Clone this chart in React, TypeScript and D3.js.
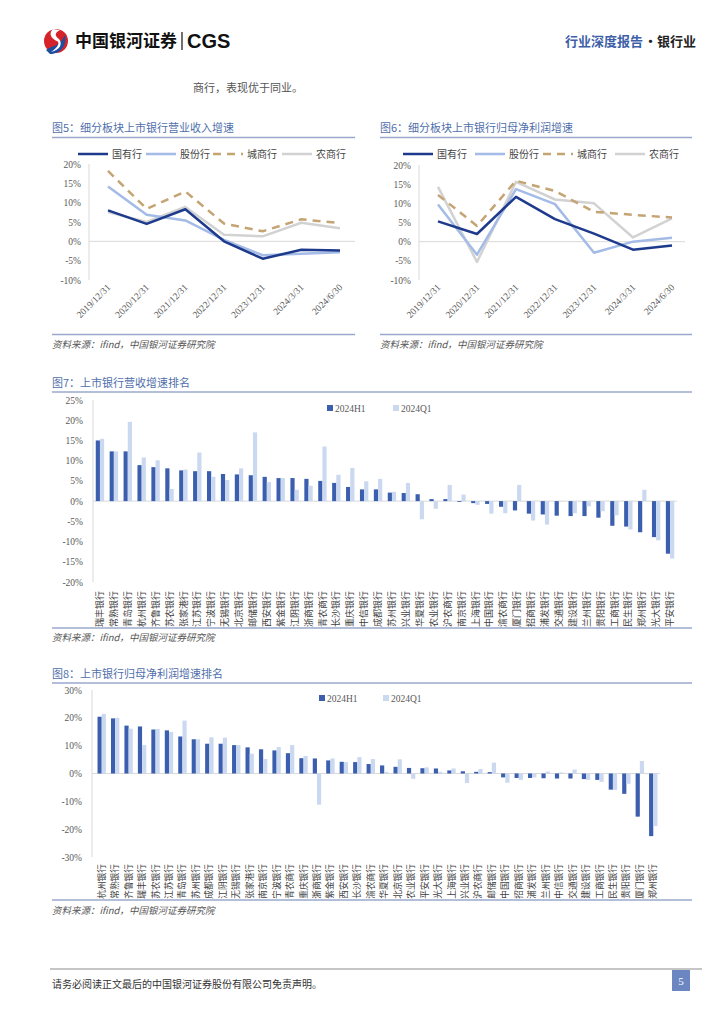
import React from 'react';
import * as d3 from 'd3';

// ---------- data ----------
const lineCats = ['2019/12/31', '2020/12/31', '2021/12/31', '2022/12/31', '2023/12/31', '2024/3/31', '2024/6/30'];
const seriesNames = ['国有行', '股份行', '城商行', '农商行'];

// 图5 营业收入增速 (%)
const revState = [8.0, 4.5, 8.3, 0.0, -4.5, -2.2, -2.4];
const revJoint = [14.2, 6.9, 5.4, 0.4, -3.6, -3.2, -2.8];
const revCity = [18.2, 8.4, 12.9, 4.6, 2.6, 5.7, 4.7];
const revRural = [7.6, 5.0, 8.9, 1.7, 1.3, 4.8, 3.4];

// 图6 归母净利润增速 (%)
const profState = [5.3, 2.0, 11.7, 5.9, 2.1, -2.1, -1.0];
const profJoint = [9.7, -3.4, 13.7, 9.8, -2.9, 0.0, 1.0];
const profCity = [12.2, 4.1, 15.9, 13.2, 7.8, 7.0, 6.3];
const profRural = [14.3, -5.3, 15.6, 11.0, 10.0, 1.1, 6.1];

const lineTicks = [-10, -5, 0, 5, 10, 15, 20];

// 图7 营收增速排名
const revBanks = ['瑞丰银行', '常熟银行', '青岛银行', '杭州银行', '齐鲁银行', '苏农银行', '张家港行', '江苏银行', '宁波银行', '无锡银行', '北京银行', '邮储银行', '西安银行', '紫金银行', '江阴银行', '浙商银行', '青农商行', '长沙银行', '重庆银行', '中信银行', '成都银行', '苏州银行', '兴业银行', '华夏银行', '农业银行', '沪农商行', '南京银行', '上海银行', '中国银行', '渝农商行', '厦门银行', '招商银行', '浦发银行', '交通银行', '建设银行', '兰州银行', '贵阳银行', '工商银行', '民生银行', '郑州银行', '光大银行', '平安银行'];
const revH1 = [15.0, 12.3, 12.3, 8.9, 8.4, 8.1, 7.6, 7.4, 7.4, 6.7, 6.6, 6.4, 6.0, 5.7, 5.7, 5.5, 5.0, 4.5, 3.5, 2.9, 2.9, 2.1, 2.0, 1.7, 0.5, 0.5, -0.2, -0.5, -0.7, -1.4, -2.3, -3.1, -3.3, -3.6, -3.7, -3.7, -4.1, -6.1, -6.3, -7.7, -8.9, -13.0];
const revQ1 = [15.4, 12.3, 19.6, 10.8, 10.1, 3.0, 7.8, 12.0, 6.0, 5.2, 8.1, 17.0, 4.7, 5.7, 2.8, 3.8, 13.5, 6.5, 8.2, 4.9, 5.5, 2.3, 4.5, -4.5, -1.9, 4.0, 1.6, -0.9, -3.1, -3.0, 4.0, -4.8, -5.8, -0.1, -3.0, -1.3, -2.5, -3.5, -7.0, 2.8, -9.7, -14.2];
const revTicks = [-20, -15, -10, -5, 0, 5, 10, 15, 20, 25];

// 图8 归母净利润增速排名
const profBanks = ['杭州银行', '常熟银行', '齐鲁银行', '瑞丰银行', '苏农银行', '江苏银行', '青岛银行', '苏州银行', '成都银行', '江阴银行', '无锡银行', '张家港行', '南京银行', '宁波银行', '青农商行', '重庆银行', '浙商银行', '紫金银行', '西安银行', '长沙银行', '渝农商行', '华夏银行', '北京银行', '农业银行', '平安银行', '光大银行', '上海银行', '兴业银行', '沪农商行', '邮储银行', '中国银行', '招商银行', '浦发银行', '兰州银行', '中信银行', '交通银行', '建设银行', '工商银行', '民生银行', '贵阳银行', '厦门银行', '郑州银行'];
const profH1 = [20.4, 19.8, 17.2, 16.9, 15.8, 15.5, 13.3, 12.3, 10.7, 10.7, 10.2, 9.4, 8.7, 8.3, 7.3, 5.5, 5.4, 4.7, 4.2, 4.1, 3.4, 2.9, 2.4, 2.0, 1.9, 1.8, 1.1, 0.8, 0.6, 0.5, -1.4, -1.6, -1.6, -1.7, -1.8, -1.8, -2.0, -2.3, -5.8, -7.3, -15.5, -22.5];
const profQ1 = [21.4, 20.0, 16.1, 10.2, 16.0, 14.9, 19.0, 12.3, 13.0, 12.9, 10.2, 7.1, 5.2, 9.5, 10.2, 6.3, -11.2, 5.4, 4.1, 5.9, 5.2, 0.6, 5.1, -1.9, 2.2, 0.6, 1.8, -3.4, 1.6, 3.9, -3.3, -2.3, -1.4, 0.7, 0.4, 1.4, -2.3, -3.0, -5.9, -3.7, 4.5, -18.9];
const profTicks = [-30, -20, -10, 0, 10, 20, 30];

// ---------- styles ----------
const CJK = '"Noto Sans CJK SC", "Noto Sans", sans-serif';
const SERIF = '"Liberation Serif", "DejaVu Serif", serif';
const TITLE_BLUE = '#4f6fab';
const RULE = '#9aa9cc';
const lineColors = ['#1d3a8c', '#a3bbe6', '#c5a474', '#d2d2d2'];
const DARK_BAR = '#3b5fae';
const LIGHT_BAR = '#cbd9f0';

type LineChartProps = {
  x0: number; x1: number; title: string;
  axisX: number; plotRight: number; top: number; bottom: number;
  firstX: number; lastX: number;
  series: number[][];
  legendX: number[];
};

function LineChart(p: LineChartProps) {
  const y = d3.scaleLinear().domain([-10, 20]).range([p.bottom, p.top]);
  const x = d3.scalePoint<string>().domain(lineCats).range([p.firstX, p.lastX]);
  const line = d3.line<number>().x((_, i) => x(lineCats[i]) as number).y((d) => y(d));
  const order = [3, 1, 2, 0];
  return (
    <g>
      <text x={p.x0} y={132} fontFamily={CJK} fontSize={11} fill={TITLE_BLUE}>{p.title}</text>
      <line x1={p.x0} x2={p.x1} y1={137.5} y2={137.5} stroke={RULE} strokeWidth={1.5} />
      {seriesNames.map((n, i) => (
        <g key={n}>
          <line x1={p.legendX[i]} x2={p.legendX[i] + 30} y1={154} y2={154} stroke={lineColors[i]} strokeWidth={2.5}
            strokeDasharray={i === 2 ? '8 6' : undefined} />
          <text x={p.legendX[i] + 34} y={157.5} fontFamily={CJK} fontSize={10} fill="#444">{n}</text>
        </g>
      ))}
      <line x1={p.axisX} x2={p.axisX} y1={p.top} y2={p.bottom} stroke="#d9d9d9" strokeWidth={1} />
      <line x1={p.axisX} x2={p.plotRight} y1={y(0)} y2={y(0)} stroke="#d9d9d9" strokeWidth={1} />
      {lineTicks.map((t) => (
        <text key={t} x={p.axisX - 8} y={y(t) + 3.5} textAnchor="end" fontFamily={SERIF} fontSize={9.5} fill="#595959">{t}%</text>
      ))}
      {order.map((i) => (
        <path key={i} d={line(p.series[i]) || ''} fill="none" stroke={lineColors[i]} strokeWidth={2.5}
          strokeDasharray={i === 2 ? '8 6' : undefined} strokeLinejoin="round" />
      ))}
      {lineCats.map((c) => (
        <text key={c} transform={`translate(${(x(c) as number) + 3},${p.bottom + 8}) rotate(-45)`} textAnchor="end"
          fontFamily={SERIF} fontSize={9.5} fill="#595959">{c}</text>
      ))}
      <line x1={p.x0} x2={p.x1} y1={334.5} y2={334.5} stroke={RULE} strokeWidth={1.5} />
      <text x={p.x0} y={348} fontFamily={CJK} fontSize={9.5} fill="#555" fontStyle="italic">资料来源：ifind，中国银河证券研究院</text>
    </g>
  );
}

type BarChartProps = {
  title: string; titleY: number; ruleY: number;
  names: string[]; h1: number[]; q1: number[]; ticks: number[];
  axisX: number; bandStart: number; bandEnd: number; zeroEnd: number;
  top: number; bottom: number;
  legendY: number; legendX1: number; legendX2: number;
  labelTop: number; sourceRuleY: number; sourceY: number; labelSize: number;
};

function BarChart(p: BarChartProps) {
  const y = d3.scaleLinear().domain([p.ticks[0], p.ticks[p.ticks.length - 1]]).range([p.bottom, p.top]);
  const x = d3.scaleBand<string>().domain(p.names).range([p.bandStart, p.bandEnd]).padding(0);
  const bw = 4.2;
  return (
    <g>
      <text x={52} y={p.titleY} fontFamily={CJK} fontSize={11} fill={TITLE_BLUE}>{p.title}</text>
      <line x1={52} x2={692} y1={p.ruleY} y2={p.ruleY} stroke={RULE} strokeWidth={1.5} />
      <line x1={p.axisX} x2={p.axisX} y1={p.top} y2={p.bottom} stroke="#d9d9d9" strokeWidth={1} />
      <line x1={p.axisX} x2={p.zeroEnd} y1={y(0)} y2={y(0)} stroke="#d9d9d9" strokeWidth={1} />
      {p.ticks.map((t) => (
        <text key={t} x={p.axisX - 10} y={y(t) + 3.5} textAnchor="end" fontFamily={SERIF} fontSize={9.5} fill="#595959">{t}%</text>
      ))}
      {p.names.map((n, i) => {
        const c = (x(n) as number) + x.bandwidth() / 2;
        const a = p.h1[i];
        const b = p.q1[i];
        return (
          <g key={n}>
            <rect x={c - bw} width={bw} y={Math.min(y(a), y(0))} height={Math.abs(y(a) - y(0))} fill={DARK_BAR} />
            <rect x={c} width={bw} y={Math.min(y(b), y(0))} height={Math.abs(y(b) - y(0))} fill={LIGHT_BAR} />
            <text transform={`translate(${c},${p.labelTop}) rotate(-90)`} textAnchor="end" dy="0.35em"
              fontFamily={CJK} fontSize={p.labelSize} fill="#404040">{n}</text>
          </g>
        );
      })}
      <rect x={p.legendX1} y={p.legendY - 3} width={6} height={6} fill={DARK_BAR} />
      <text x={p.legendX1 + 8} y={p.legendY + 3.5} fontFamily={SERIF} fontSize={9.5} fill="#595959">2024H1</text>
      <rect x={p.legendX2} y={p.legendY - 3} width={6} height={6} fill={LIGHT_BAR} />
      <text x={p.legendX2 + 8} y={p.legendY + 3.5} fontFamily={SERIF} fontSize={9.5} fill="#595959">2024Q1</text>
      <line x1={52} x2={692} y1={p.sourceRuleY} y2={p.sourceRuleY} stroke={RULE} strokeWidth={1.5} />
      <text x={52} y={p.sourceY} fontFamily={CJK} fontSize={9.5} fill="#555" fontStyle="italic">资料来源：ifind，中国银河证券研究院</text>
    </g>
  );
}

function Header() {
  return (
    <g>
      <circle cx={56} cy={41} r={12} fill="#d6232a" />
      <path d="M46,50 C53,45 59,47 65,35 C67,44 62,54 50,54 Z" fill="#1f4e9e" />
      <path d="M53,29 C47,35 54,40 57,41 C61,43 56,49 51,52 C60,50 63,44 59,39 C55,36 54,33 60,30 Z" fill="#ffffff" />
      <text x={75} y={47} fontFamily={CJK} fontSize={17} fontWeight={700} fill="#111">中国银河证券</text>
      <line x1={182} x2={182} y1={32} y2={50} stroke="#111" strokeWidth={1.2} />
      <text x={187} y={48} fontFamily='"Liberation Sans", Arial, sans-serif' fontSize={20} fontWeight={700} fill="#111">CGS</text>
      <text x={565} y={46} fontFamily={CJK} fontSize={13} fontWeight={700} fill="#3e5fa8">行业深度报告</text>
      <text x={644} y={46} fontFamily={CJK} fontSize={13} fontWeight={700} fill="#222">·银行业</text>
      <text x={193} y={92} fontFamily={CJK} fontSize={11} fill="#555">商行，表现优于同业。</text>
    </g>
  );
}

function Footer() {
  return (
    <g>
      <line x1={50} x2={702} y1={969} y2={969} stroke="#8c8c8c" strokeWidth={1} />
      <text x={52} y={988} fontFamily={CJK} fontSize={10} fill="#333">请务必阅读正文最后的中国银河证券股份有限公司免责声明。</text>
      <rect x={672} y={970} width={18} height={21} fill="#6b86c0" />
      <text x={681} y={985} textAnchor="middle" fontFamily={SERIF} fontSize={11} fill="#fff">5</text>
    </g>
  );
}

export default function App() {
  return (
    <svg width={724} height={1024} viewBox="0 0 724 1024"
      style={{ position: 'absolute', left: 0, top: 0, background: '#fff' }}>
      <rect x={0} y={0} width={724} height={1024} fill="#fff" />
      <Header />
      <LineChart x0={52} x1={355} title="图5：细分板块上市银行营业收入增速"
        axisX={89} plotRight={355} top={164} bottom={280} firstX={108} lastX={340}
        series={[revState, revJoint, revCity, revRural]} legendX={[78, 146, 213, 282]} />
      <LineChart x0={380} x1={692} title="图6：细分板块上市银行归母净利润增速"
        axisX={419} plotRight={685} top={165} bottom={280} firstX={438} lastX={672}
        series={[profState, profJoint, profCity, profRural]} legendX={[403, 475, 543, 615]} />
      <BarChart title="图7：上市银行营收增速排名" titleY={387} ruleY={392}
        names={revBanks} h1={revH1} q1={revQ1} ticks={revTicks}
        axisX={93} bandStart={93} bandEnd={677} zeroEnd={677} top={400} bottom={582}
        legendY={408} legendX1={327} legendX2={393} labelTop={591} sourceRuleY={628} sourceY={641} labelSize={9} />
      <BarChart title="图8：上市银行归母净利润增速排名" titleY={678} ruleY={683}
        names={profBanks} h1={profH1} q1={profQ1} ticks={profTicks}
        axisX={92} bandStart={95} bandEnd={660} zeroEnd={660} top={690} bottom={857}
        legendY={698} legendX1={319} legendX2={383} labelTop={864} sourceRuleY={900} sourceY={914} labelSize={8.7} />
      <Footer />
    </svg>
  );
}
